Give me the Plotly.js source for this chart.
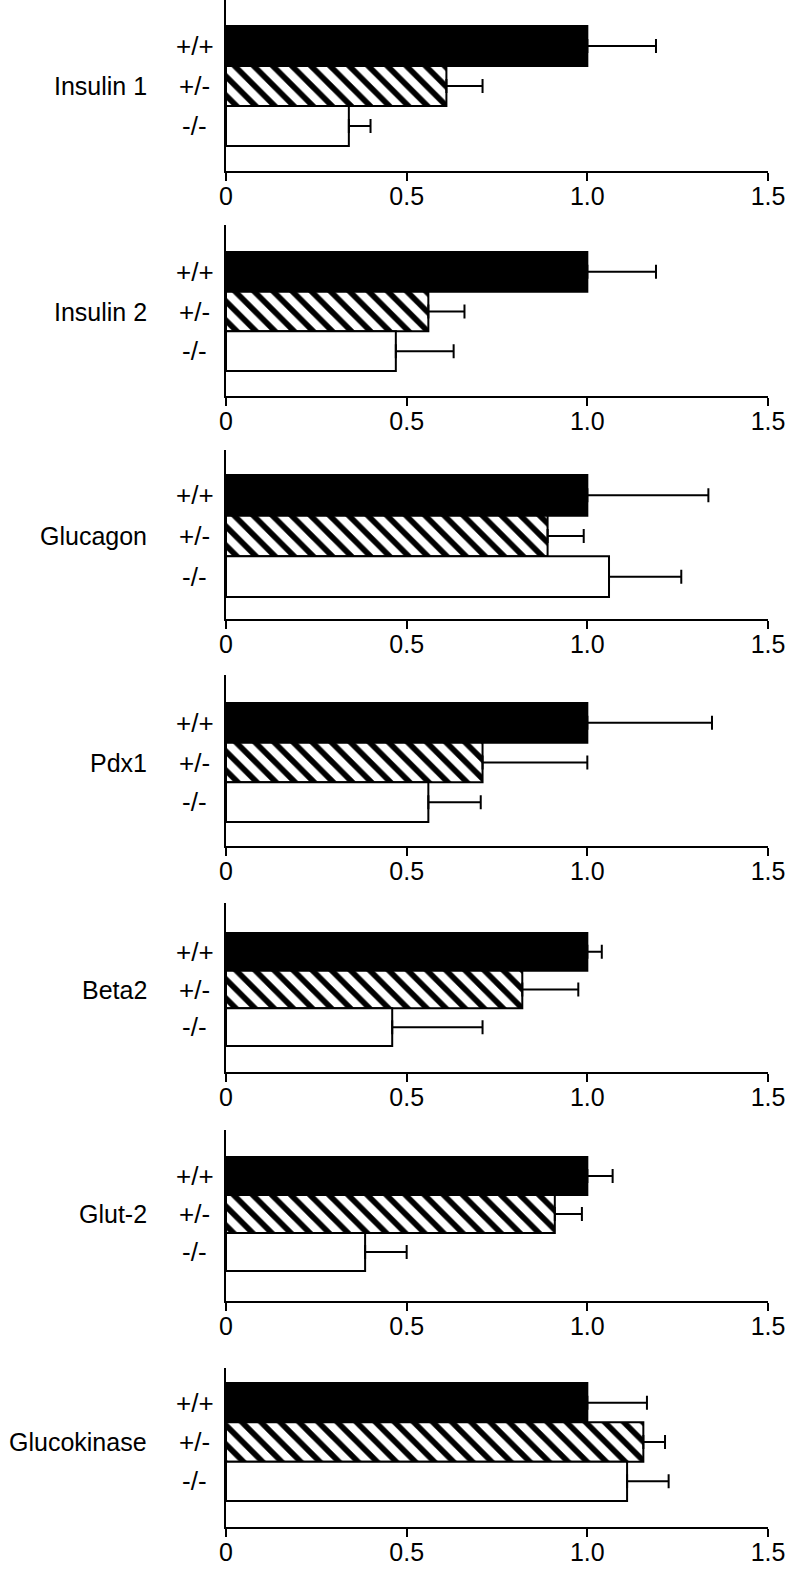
<!DOCTYPE html>
<html>
<head>
<meta charset="utf-8">
<script src="https://cdn.plot.ly/plotly-3.0.1.min.js"></script>
<style>
  html, body { margin: 0; padding: 0; background: #fff; }
  #plot { width: 800px; height: 1572px; }
</style>
</head>
<body>
<div id="plot"></div>
<script>
// relative mRNA expression, normalised to +/+
const genes = ['Insulin 1', 'Insulin 2', 'Glucagon', 'Pdx1', 'Beta2', 'Glut-2', 'Glucokinase'];
const genotypes = ['+/+', '+/-', '-/-'];

const wtMean = [1.0, 1.0, 1.0, 1.0, 1.0, 1.0, 1.0];
const hetMean = [0.61, 0.56, 0.89, 0.71, 0.82, 0.91, 1.155];
const koMean = [0.34, 0.47, 1.06, 0.56, 0.46, 0.385, 1.11];

const wtErr = [0.19, 0.19, 0.335, 0.345, 0.04, 0.07, 0.165];
const hetErr = [0.10, 0.10, 0.10, 0.29, 0.155, 0.075, 0.06];
const koErr = [0.06, 0.16, 0.20, 0.145, 0.25, 0.115, 0.115];

const xTickVals = [0, 0.5, 1, 1.5];
const xTickText = ['0', '0.5', '1.0', '1.5'];

// panel geometry in px: [axis top, bars top, bars bottom, x axis line]
const panelPx = [
  [0, 26, 146, 171],
  [225, 252, 371, 396],
  [450, 475, 597, 619],
  [675, 703, 822, 846],
  [903, 933, 1046, 1072],
  [1130, 1157, 1271, 1301],
  [1368, 1383, 1501, 1527]
];

const H = 1572;
const L = 226, R = 32;
const plotW = 800 - L - R;
const font = { family: '"Liberation Sans", Arial, sans-serif', color: '#000' };
const catOrder = ['-/-', '+/-', '+/+'];

// one style per genotype: solid black, hatched, white
const barStyles = [
  { color: '#000', pattern: { shape: '' } },
  { color: '#fff', pattern: { shape: '\\', fgcolor: '#000', bgcolor: '#fff', size: 13.5, solidity: 0.42, fillmode: 'replace' } },
  { color: '#fff', pattern: { shape: '' } }
];

const data = [];
const layout = {
  width: 800,
  height: H,
  margin: { l: L, r: R, t: 0, b: 0 },
  paper_bgcolor: '#fff',
  plot_bgcolor: '#fff',
  showlegend: false,
  barmode: 'overlay',
  bargap: 0,
  font: Object.assign({ size: 25 }, font),
  annotations: []
};

genes.forEach((gene, i) => {
  const k = i === 0 ? '' : String(i + 1);
  const [top, barTop, barBot, axisY] = panelPx[i];
  const u = (barBot - barTop) / 3;
  const means = [wtMean[i], hetMean[i], koMean[i]];
  const errs = [wtErr[i], hetErr[i], koErr[i]];

  genotypes.forEach((g, j) => {
    data.push({
      type: 'bar',
      orientation: 'h',
      xaxis: 'x' + k,
      yaxis: 'y' + k,
      y: [g],
      x: [means[j]],
      marker: {
        color: barStyles[j].color,
        line: { color: '#000', width: 2 },
        pattern: barStyles[j].pattern
      },
      error_x: {
        type: 'data',
        symmetric: false,
        array: [errs[j]],
        arrayminus: [0],
        color: '#000',
        thickness: 2,
        width: 7
      },
      hoverinfo: 'skip'
    });

    layout.annotations.push({
      xref: 'paper',
      yref: 'y' + k,
      x: (194.5 - L) / plotW,
      y: catOrder.indexOf(g),
      xanchor: 'center',
      yanchor: 'middle',
      text: g,
      showarrow: false,
      font: Object.assign({ size: 26 }, font)
    });
  });

  layout['xaxis' + k] = {
    domain: [0, 1],
    anchor: 'y' + k,
    range: [0, 1.5],
    tickvals: xTickVals,
    ticktext: xTickText,
    ticks: 'outside',
    ticklen: 8,
    tickwidth: 2,
    tickcolor: '#000',
    ticklabelstandoff: -6,
    showline: true,
    linewidth: 2,
    linecolor: '#000',
    showgrid: false,
    zeroline: false,
    tickfont: Object.assign({ size: 25 }, font),
    fixedrange: true
  };

  layout['yaxis' + k] = {
    domain: [1 - axisY / H, 1 - top / H],
    anchor: 'x' + k,
    type: 'category',
    categoryorder: 'array',
    categoryarray: catOrder,
    range: [-0.5 - (axisY - barBot) / u, 2.5 + (barTop - top) / u],
    showline: true,
    linewidth: 2,
    linecolor: '#000',
    showticklabels: false,
    ticks: '',
    showgrid: false,
    zeroline: false,
    fixedrange: true
  };

  layout.annotations.push({
    xref: 'paper',
    yref: 'y' + k,
    x: (149 - L) / plotW,
    y: catOrder.indexOf('+/-'),
    xanchor: 'right',
    yanchor: 'middle',
    text: gene,
    showarrow: false,
    font: Object.assign({ size: 25 }, font)
  });
});

Plotly.newPlot('plot', data, layout, { displayModeBar: false, staticPlot: true });
</script>
</body>
</html>
